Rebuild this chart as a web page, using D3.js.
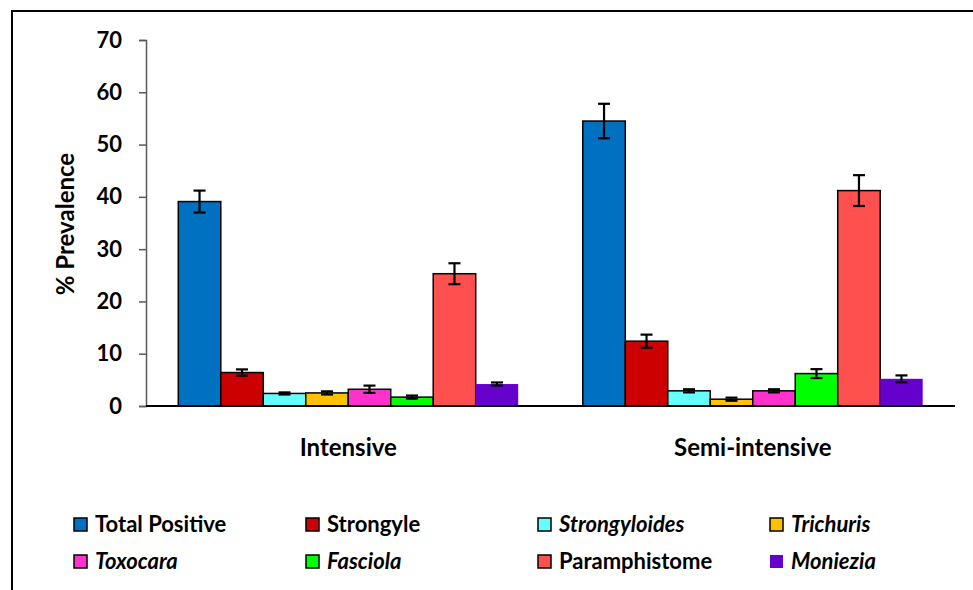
<!DOCTYPE html>
<html lang="en">
<head>
  <meta charset="UTF-8">
  <title>% Prevalence by management system</title>
  <script src="https://d3js.org/d3.v7.min.js"></script>
  <style>
    body { margin: 0; background: #fff; font-family: Lato, "Open Sans", Arial, sans-serif; }
    text { font-weight: bold; fill: #000; }
  </style>
</head>
<body>
<div id="chart"></div>
<script>
const groups = ["Intensive", "Semi-intensive"];
const series = ["Total Positive", "Strongyle", "Strongyloides", "Trichuris",
                "Toxocara", "Fasciola", "Paramphistome", "Moniezia"];
const italicSeries = ["Strongyloides", "Trichuris", "Toxocara", "Fasciola", "Moniezia"];
const colors = ["#0070C0", "#CC0000", "#66FFFF", "#FFC000",
                "#FF33CC", "#00FF00", "#FF5050", "#6600CC"];
// values per series: [Intensive, Semi-intensive]
const intensive     = [39.1, 6.4, 2.4, 2.5, 3.2, 1.7, 25.3, 4.2];
const semiIntensive = [54.5, 12.4, 2.9, 1.3, 2.9, 6.2, 41.2, 5.2];
const errIntensive  = [2.1, 0.6, 0.2, 0.3, 0.7, 0.3, 2.0, 0.3];
const errSemi       = [3.3, 1.25, 0.3, 0.3, 0.3, 0.85, 2.95, 0.65];
const yTicks = [0, 10, 20, 30, 40, 50, 60, 70];

const width = 973, height = 590;
const plotLeft = 146, plotRight = 955, plotTop = 40, plotBottom = 406;

const svg = d3.select("#chart").append("svg")
  .attr("width", width)
  .attr("height", height);

// outer frame (runs off the right and bottom edges)
svg.append("rect")
  .attr("x", 12).attr("y", 11)
  .attr("width", 980).attr("height", 600)
  .attr("fill", "none").attr("stroke", "#000").attr("stroke-width", 2);

const y = d3.scaleLinear().domain([0, 70]).range([plotBottom, plotTop]);
const x0 = d3.scaleBand().domain(groups).range([plotLeft, plotRight]).padding(0);
const x1 = d3.scaleBand().domain(series).range([0, x0.bandwidth()])
  .paddingInner(0).paddingOuter(0.76);
const color = d3.scaleOrdinal().domain(series).range(colors);

const rows = [];
groups.forEach((g, gi) => {
  series.forEach((s, si) => {
    rows.push({
      group: g, series: s,
      value: gi === 0 ? intensive[si] : semiIntensive[si],
      err: gi === 0 ? errIntensive[si] : errSemi[si]
    });
  });
});

// y axis
const yAxis = svg.append("g")
  .attr("transform", `translate(${plotLeft},0)`)
  .call(d3.axisLeft(y).tickValues(yTicks).tickSize(7).tickPadding(17));
yAxis.select(".domain").attr("stroke", "#595959").attr("stroke-width", 1.5);
yAxis.selectAll(".tick line").attr("stroke", "#595959").attr("stroke-width", 1.5);
yAxis.selectAll(".tick text")
  .style("font-size", "22px").style("font-weight", "bold")
  .style("font-family", "Lato, sans-serif").attr("fill", "#000");

// bars
svg.append("g").selectAll("rect")
  .data(rows)
  .join("rect")
  .attr("x", d => x0(d.group) + x1(d.series))
  .attr("y", d => y(d.value))
  .attr("width", x1.bandwidth())
  .attr("height", d => y(0) - y(d.value))
  .attr("fill", d => color(d.series))
  .attr("stroke", d => d.series === "Moniezia" ? "none" : "#000")
  .attr("stroke-width", 1.5);

// error bars
const eb = svg.append("g").selectAll("g")
  .data(rows)
  .join("g")
  .attr("transform", d => `translate(${x0(d.group) + x1(d.series) + x1.bandwidth() / 2},0)`)
  .attr("stroke", "#000").attr("stroke-width", 2.2);
eb.append("line")
  .attr("y1", d => y(d.value + d.err)).attr("y2", d => y(d.value - d.err));
eb.append("line")
  .attr("x1", -6).attr("x2", 6)
  .attr("y1", d => y(d.value + d.err)).attr("y2", d => y(d.value + d.err));
eb.append("line")
  .attr("x1", -6).attr("x2", 6)
  .attr("y1", d => y(d.value - d.err)).attr("y2", d => y(d.value - d.err));

// x axis line
svg.append("line")
  .attr("x1", plotLeft).attr("x2", plotRight)
  .attr("y1", y(0)).attr("y2", y(0))
  .attr("stroke", "#000").attr("stroke-width", 2);

// group labels
svg.append("g").selectAll("text")
  .data(groups)
  .join("text")
  .attr("x", d => x0(d) + x0.bandwidth() / 2)
  .attr("y", 456)
  .attr("text-anchor", "middle")
  .style("font-size", "24px")
  .text(d => d);

// y axis title
svg.append("text")
  .attr("transform", `translate(74,224) rotate(-90)`)
  .attr("text-anchor", "middle")
  .style("font-size", "24px")
  .text("% Prevalence");

// legend
const legend = svg.append("g").selectAll("g")
  .data(series)
  .join("g")
  .attr("transform", (d, i) => `translate(${74 + (i % 4) * 232},${518 + Math.floor(i / 4) * 37})`);

legend.append("rect")
  .attr("width", 13).attr("height", 13)
  .attr("fill", d => color(d))
  .attr("stroke", d => d === "Moniezia" ? "none" : "#000")
  .attr("stroke-width", 1.5);

legend.append("text")
  .attr("x", 21).attr("y", 13.5)
  .style("font-size", "22px")
  .style("font-style", d => italicSeries.includes(d) ? "italic" : "normal")
  .text(d => d);
</script>
</body>
</html>
